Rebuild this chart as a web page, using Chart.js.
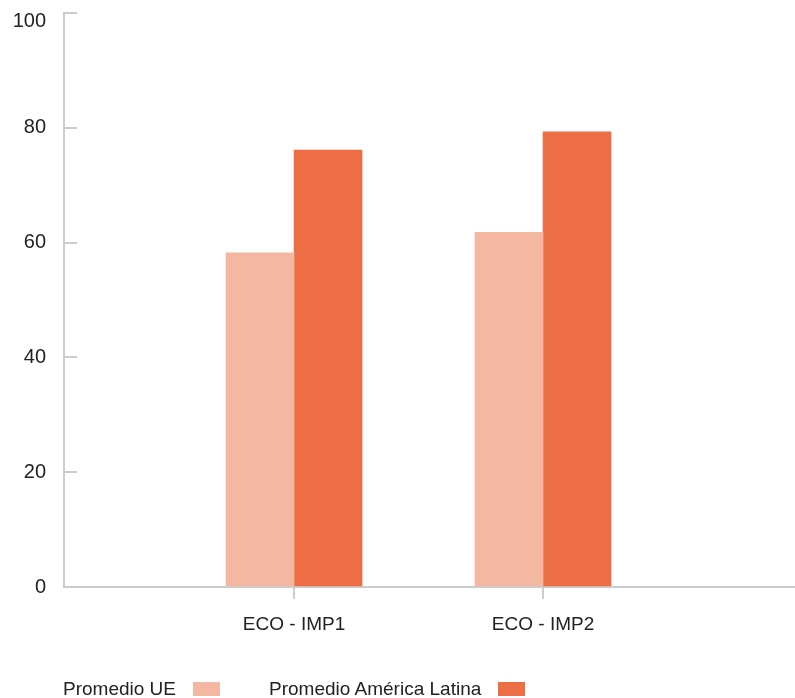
<!DOCTYPE html>
<html lang="es">
<head>
<meta charset="utf-8">
<title>Promedio UE vs Promedio América Latina</title>
<script src="https://cdn.jsdelivr.net/npm/chart.js@4/dist/chart.umd.min.js"></script>
<style>
  html, body { margin: 0; padding: 0; background: #fff; }
  #wrap { position: relative; width: 795px; height: 698px; }
  #chart { position: absolute; left: 0; top: 0; }
  #legend {
    position: absolute; left: 63px; top: 678px; height: 22px;
    display: flex; align-items: center;
    font-family: "Liberation Sans", Arial, sans-serif; font-size: 19px;
    line-height: 22px; color: #222; white-space: nowrap;
  }
  #legend .item { display: flex; align-items: center; margin-right: 49px; }
  #legend .box { display: inline-block; width: 27px; height: 14px; margin-left: 17px; }
</style>
</head>
<body>
<div id="wrap">
  <canvas id="chart" width="795" height="698"></canvas>
  <div id="legend"></div>
</div>
<script>
// Categories and the two averages per category
const categories = ['ECO - IMP1', 'ECO - IMP2'];
const promedioUE = [58.2, 61.8];
const promedioAmericaLatina = [76.1, 79.3];
const yTickValues = [0, 20, 40, 60, 80, 100];

const seriesNames = ['Promedio UE', 'Promedio América Latina'];
const seriesColors = ['#F4B7A1', '#ED6E45'];

const toPoints = vals => vals.map((v, i) => ({ x: i + 1, y: v }));

// HTML legend: label first, swatch after it
const legend = document.getElementById('legend');
seriesNames.forEach((name, i) => {
  const item = document.createElement('span');
  item.className = 'item';
  const txt = document.createElement('span');
  txt.textContent = name;
  const box = document.createElement('span');
  box.className = 'box';
  box.style.background = seriesColors[i];
  item.appendChild(txt);
  item.appendChild(box);
  legend.appendChild(item);
});

// Keeps the top y label from sitting on the canvas edge
const topLabelInset = {
  id: 'topLabelInset',
  beforeDraw(chart) {
    const y = chart.scales.y;
    const items = y.getLabelItems(chart.chartArea);
    items.forEach(it => {
      const t = it.options.translation;
      t[1] = Math.max(t[1], y.top + 8);
    });
  }
};

Chart.defaults.font.family = '"Liberation Sans", Arial, sans-serif';
Chart.defaults.font.size = 19;
Chart.defaults.color = '#222';

new Chart(document.getElementById('chart'), {
  type: 'bar',
  plugins: [topLabelInset],
  data: {
    datasets: [
      { label: seriesNames[0], data: toPoints(promedioUE), backgroundColor: seriesColors[0] },
      { label: seriesNames[1], data: toPoints(promedioAmericaLatina), backgroundColor: seriesColors[1] }
    ]
  },
  options: {
    responsive: false,
    animation: false,
    barThickness: 68,
    layout: { padding: { top: 13, right: 0, bottom: 58, left: 0 } },
    plugins: { legend: { display: false }, tooltip: { enabled: false } },
    scales: {
      x: {
        type: 'linear',
        offset: false,
        min: 0.076,
        max: 3.012,
        afterBuildTicks: s => { s.ticks = categories.map((c, i) => ({ value: i + 1 })); },
        afterFit: s => { s.height = 53; s.paddingLeft = 0; s.paddingRight = 0; },
        ticks: {
          autoSkip: false,
          maxRotation: 0,
          padding: 14,
          callback: v => categories[v - 1]
        },
        grid: { offset: false, drawOnChartArea: false, drawTicks: true, tickLength: 12, color: '#cccccc', lineWidth: 2 },
        border: { color: '#cccccc', width: 2 }
      },
      y: {
        min: 0,
        max: 100,
        afterBuildTicks: s => { s.ticks = yTickValues.map(v => ({ value: v })); },
        afterFit: s => { s.width = 64; s.paddingTop = 0; s.paddingBottom = 0; },
        ticks: { padding: 31, font: { size: 20 } },
        grid: { drawOnChartArea: false, drawTicks: true, tickLength: -13, color: '#cccccc', lineWidth: 2 },
        border: { color: '#cccccc', width: 2 }
      }
    }
  }
});
</script>
</body>
</html>
